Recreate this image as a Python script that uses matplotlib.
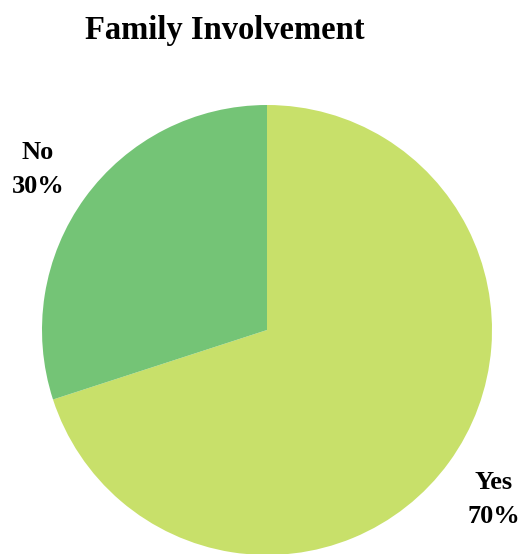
import matplotlib
matplotlib.use("Agg")
import matplotlib.pyplot as plt

# Survey answers: is the family involved?
categories = ["Yes", "No"]
shares = [70, 30]
colors = ["#C8E06A", "#74C476"]

plt.rcParams["font.family"] = ["Liberation Serif", "DejaVu Serif"]

fig = plt.figure(figsize=(5.25, 5.54), dpi=100)
ax = fig.add_axes([42 / 525, -1 / 554, 450 / 525, 450 / 554])
ax.pie(shares, colors=colors, startangle=90, counterclock=False,
       radius=1.0, wedgeprops=dict(linewidth=0))
ax.set_xlim(-1, 1)
ax.set_ylim(-1, 1)
ax.set_aspect("equal")
ax.axis("off")

# Category labels sit outside the pie, next to their slices
label_pos = {"Yes": (1.009, -0.753), "No": (-1.018, 0.712)}
for cat, val in zip(categories, shares):
    x, y = label_pos[cat]
    ax.text(x, y, f"{cat}\n{val}%", ha="center", va="center",
            fontsize=19, fontweight="bold", linespacing=1.6, clip_on=False)

fig.text(225 / 525, 1 - 31 / 554, "Family Involvement", ha="center", va="center",
         fontsize=23.5, fontweight="bold")

fig.savefig("out.png", dpi=100)
